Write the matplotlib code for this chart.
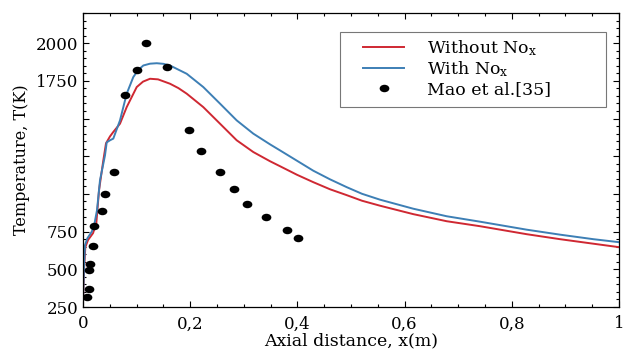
import numpy as np
import matplotlib
matplotlib.use("Agg")
from matplotlib import pyplot as plt
from matplotlib.ticker import MultipleLocator
from matplotlib.path import Path
from matplotlib.patches import Rectangle
from matplotlib.transforms import Affine2D

plt.rcParams['font.family'] = 'DejaVu Serif'
plt.rcParams['mathtext.fontset'] = 'dejavuserif'

# temperature along the axis, without NOx chemistry
x_without = [0, 0.0019, 0.0043, 0.0093, 0.0187, 0.0248, 0.0299, 0.0379, 0.0429, 0.0504,
             0.0565, 0.069, 0.0815, 0.1002, 0.112, 0.125, 0.14, 0.1623, 0.178, 0.1935,
             0.2244, 0.2556, 0.2867, 0.3177, 0.3489, 0.3675, 0.3993, 0.4297, 0.4608, 0.492,
             0.5205, 0.5541, 0.6162, 0.6786, 0.7407, 0.8278, 0.8899, 0.952, 1.0]
t_without = [283, 495, 647, 694, 740, 806, 1025, 1223, 1336, 1382,
             1411, 1466, 1576, 1709, 1745, 1764, 1760, 1731, 1702, 1665,
             1576, 1466, 1356, 1278, 1217, 1184, 1127, 1078, 1031, 992,
             955, 922, 866, 819, 786, 733, 700, 670, 647]

# temperature along the axis, with NOx chemistry
x_with = [0, 0.0019, 0.0037, 0.008, 0.0162, 0.0205, 0.0261, 0.0317, 0.041, 0.0442,
          0.0504, 0.0565, 0.069, 0.0815, 0.0938, 0.103, 0.1125, 0.125, 0.1375, 0.15,
          0.1623, 0.1935, 0.2244, 0.2556, 0.2867, 0.3177, 0.3489, 0.3675, 0.3993, 0.4297,
          0.4608, 0.492, 0.5205, 0.5541, 0.6162, 0.6786, 0.7407, 0.8278, 0.8899, 0.952,
          1.0]
t_with = [283, 528, 660, 705, 749, 786, 892, 1091, 1256, 1342,
          1356, 1367, 1488, 1665, 1775, 1822, 1852, 1864, 1867, 1863,
          1852, 1797, 1709, 1599, 1488, 1400, 1329, 1289, 1220, 1154,
          1097, 1045, 1001, 962, 902, 852, 816, 763, 730, 700,
          680]

# measurements, Mao et al.
x_mao = [0.008, 0.011, 0.012, 0.013, 0.018, 0.020, 0.035, 0.041, 0.058, 0.078, 0.100,
         0.118, 0.157, 0.198, 0.220, 0.256, 0.282, 0.306, 0.341, 0.380, 0.401]
t_mao = [314, 369, 493, 537, 652, 786, 890, 998, 1147, 1658, 1824,
         1998, 1844, 1424, 1283, 1147, 1031, 932, 846, 760, 707]

x_ticks = [0, 0.2, 0.4, 0.6, 0.8, 1.0]
x_tick_labels = ['0', '0,2', '0,4', '0,6', '0,8', '1']
y_ticks = [250, 500, 750, 1000, 1250, 1500, 1750, 2000]
y_tick_labels = ['250', '500', '750', '', '', '', '1750', '2000']

# slightly wide dot for the measured points
dot = Path.unit_circle().transformed(Affine2D().scale(1.3, 1.0))

fig = plt.figure(figsize=(6.27, 3.52), dpi=100)
ax = fig.add_axes([0.1324, 0.1278, 0.8548, 0.8352])

ax.plot(x_without, t_without, color='#cf2832', lw=1.4, label=r'Without No$_{\rm x}$')
ax.plot(x_with, t_with, color='#3d7fb5', lw=1.4, label=r'With No$_{\rm x}$')
ax.plot(x_mao, t_mao, ls='none', marker=dot, color='black', ms=7, mec='none',
        label='Mao et al.[35]')

ax.set_xlim(0, 1)
ax.set_ylim(250, 2200)
ax.set_xticks(x_ticks)
ax.set_xticklabels(x_tick_labels)
ax.set_yticks(y_ticks)
ax.set_yticklabels(y_tick_labels)
ax.xaxis.set_minor_locator(MultipleLocator(0.05))
ax.yaxis.set_minor_locator(MultipleLocator(50))
ax.tick_params(which='both', direction='in', top=True, right=True, labelsize=12, width=0.8)
ax.tick_params(which='major', length=4.5)
ax.tick_params(axis='x', pad=6)
ax.tick_params(which='minor', length=2.5)
for s in ax.spines.values():
    s.set_linewidth(0.9)

ax.set_xlabel('Axial distance, x(m)', fontsize=12.5, labelpad=0)
ax.set_ylabel('Temperature, T(K)', fontsize=11.5, labelpad=4)

# legend entries without frame, box drawn separately
leg = ax.legend(loc='upper left', bbox_to_anchor=(0.522, 0.915), borderaxespad=0,
                borderpad=0, fontsize=12.5, frameon=False, handlelength=2.4,
                handletextpad=1.3, labelspacing=0.1, markerscale=1.0)
ax.add_patch(Rectangle((0.4795, 0.679), 0.4962, 0.2574, transform=ax.transAxes,
                       fill=False, edgecolor='#777777', lw=0.8, zorder=5))

fig.savefig('out.png', dpi=100)
